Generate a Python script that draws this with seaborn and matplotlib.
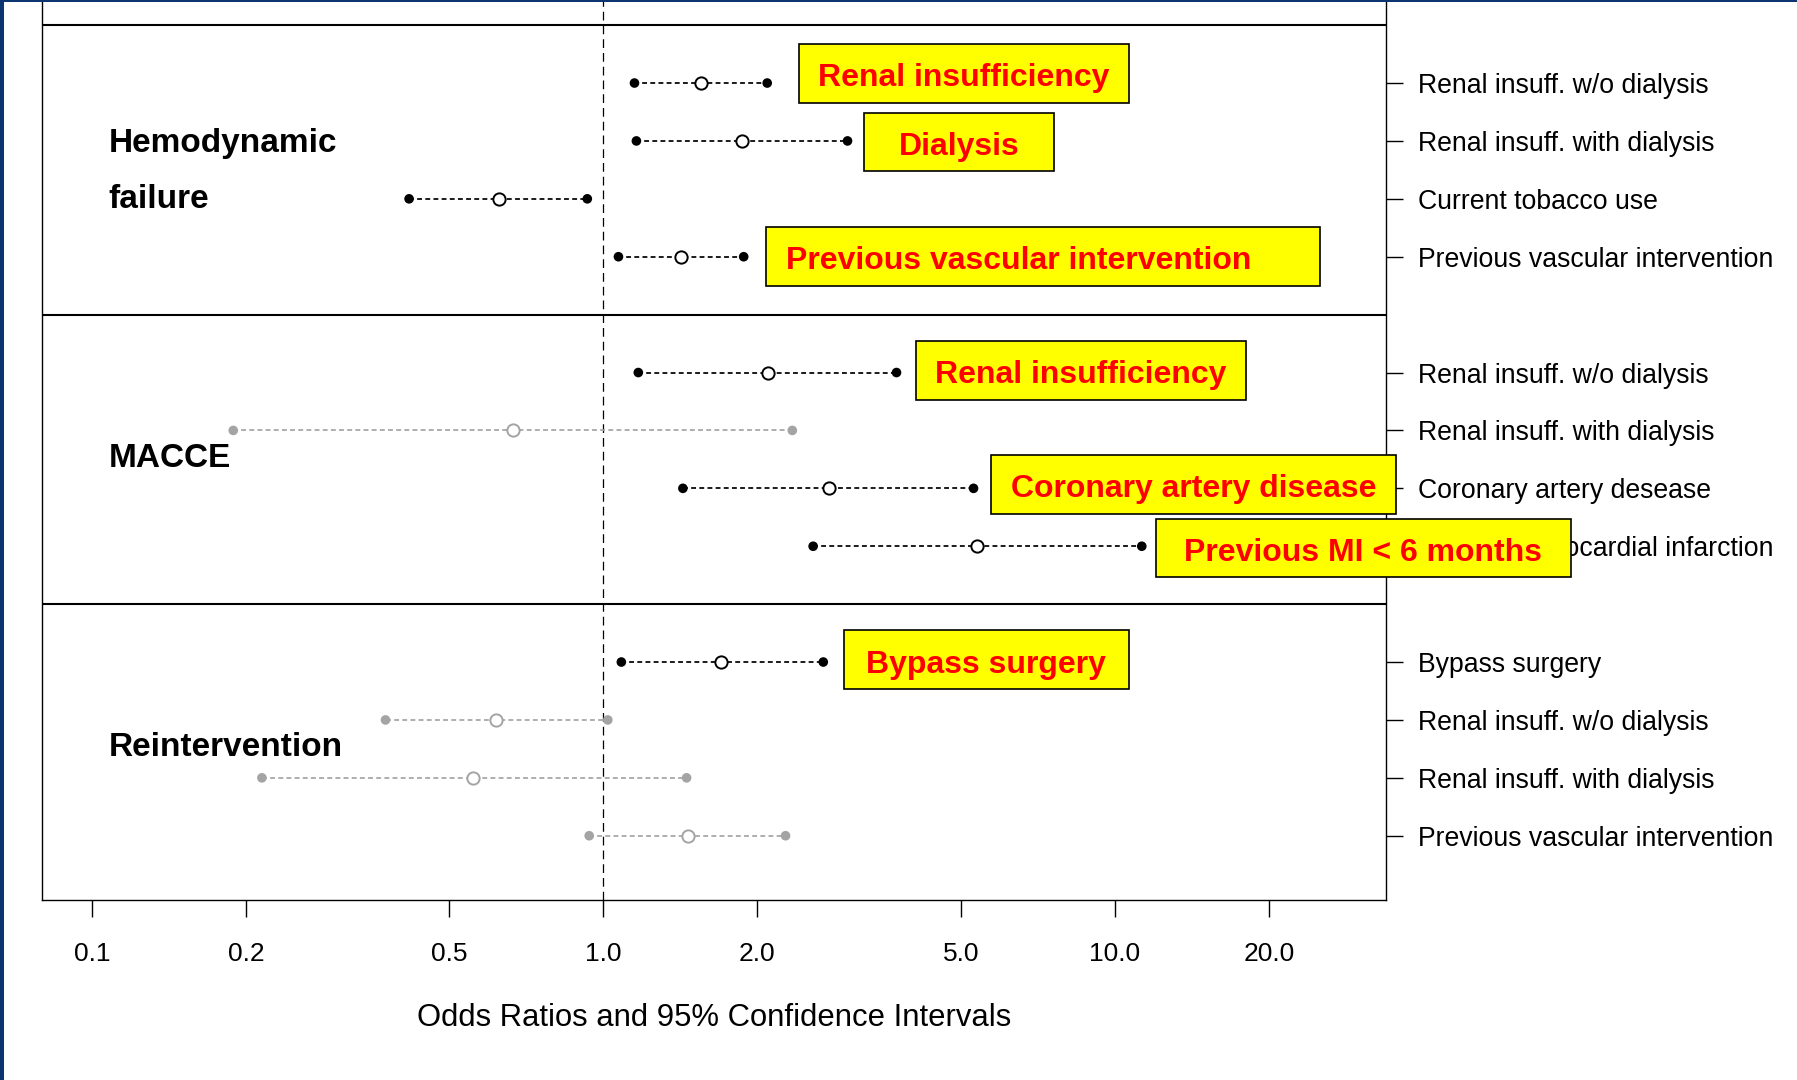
"""Forest plot of odds ratios for three outcomes, with highlight boxes."""

###########
# Imports #
###########
import numpy as np
import pandas as pd
import matplotlib
matplotlib.use("Agg")
import matplotlib.pyplot as plt
import matplotlib.transforms as mtransforms
from matplotlib.patches import Rectangle
from matplotlib.ticker import NullLocator
import seaborn as sns

########
# Data #
########
groups = ["Hemodynamic failure", "MACCE", "Reintervention"]

factors_hemo = ["Renal insuff. w/o dialysis", "Renal insuff. with dialysis",
                "Current tobacco use", "Previous vascular intervention"]
factors_macce = ["Renal insuff. w/o dialysis", "Renal insuff. with dialysis",
                 "Coronary artery desease", "Previous myocardial infarction"]
factors_reint = ["Bypass surgery", "Renal insuff. w/o dialysis",
                 "Renal insuff. with dialysis", "Previous vascular intervention"]

or_hemo = [1.55, 1.87, 0.625, 1.42]
lo_hemo = [1.15, 1.16, 0.417, 1.07]
hi_hemo = [2.09, 3.00, 0.93, 1.88]
sig_hemo = [True, True, True, True]

or_macce = [2.10, 0.667, 2.76, 5.38]
lo_macce = [1.17, 0.189, 1.43, 2.57]
hi_macce = [3.74, 2.34, 5.29, 11.28]
sig_macce = [True, False, True, True]

or_reint = [1.70, 0.618, 0.557, 1.46]
lo_reint = [1.084, 0.375, 0.215, 0.938]
hi_reint = [2.69, 1.02, 1.454, 2.27]
sig_reint = [True, False, False, False]

xtick_values = [0.1, 0.2, 0.5, 1.0, 2.0, 5.0, 10.0, 20.0]
xtick_labels = ["0.1", "0.2", "0.5", "1.0", "2.0", "5.0", "10.0", "20.0"]

highlight_text = ["Renal insufficiency", "Dialysis", "Previous vascular intervention",
                  "Renal insufficiency", "Coronary artery disease",
                  "Previous MI < 6 months", "Bypass surgery"]

##########
# Layout #
##########
# highlight boxes: left / right edge (odds-ratio units), vertical centre (row units)
box_left = [2.41, 3.23, 2.08, 4.08, 5.72, 12.0, 2.95]
box_right = [10.66, 7.60, 25.2, 18.0, 35.4, 77.9, 10.65]
box_y = [0.834, 2.017, 3.995, 5.964, 7.933, 9.035, 10.96]
box_text_x = [None, None, 6.47, None, None, None, None]

# group titles: lines and their baselines (row units)
group_lines = [["Hemodynamic", "failure"], ["MACCE"], ["Reintervention"]]
group_baselines = [[2.185, 3.16], [7.625], [12.625]]

BLACK = "black"
GREY = "#a4a4a4"
YELLOW = "#ffff00"
RED = "#ff0000"
NAVY = "#0c3470"

#################
# Organize data #
#################
df = pd.DataFrame({
    "group": np.repeat(groups, 4),
    "factor": factors_hemo + factors_macce + factors_reint,
    "odds": or_hemo + or_macce + or_reint,
    "lower": lo_hemo + lo_macce + lo_reint,
    "upper": hi_hemo + hi_macce + hi_reint,
    "significant": sig_hemo + sig_macce + sig_reint,
})
# 4 rows per panel, one empty slot between panels
df["row"] = [g * 5 + r for g in range(3) for r in range(1, 5)]

ends = df.melt(id_vars=["row", "significant"], value_vars=["lower", "upper"],
               value_name="x")

########
# Plot #
########
sns.set_theme(style="white", rc={
    "text.color": "black", "axes.labelcolor": "black",
    "xtick.color": "black", "ytick.color": "black",
    "axes.edgecolor": "black",
})
plt.rcParams["font.family"] = ["Liberation Sans", "DejaVu Sans"]

W, H = 1797, 1080
fig = plt.figure(figsize=(W / 100, H / 100), dpi=100)
fig.patch.set_facecolor("white")

row_px = 57.9
ylim = (15.11, -1.0)
ax_h = (ylim[0] - ylim[1]) * row_px / H
ax = fig.add_axes([41.7 / W, 180 / H, (1385.6 - 41.7) / W, ax_h])
ax.set_xscale("log")

palette = {True: BLACK, False: GREY}

# confidence interval lines
for sig, sub in df.groupby("significant"):
    ax.hlines(sub["row"], sub["lower"], sub["upper"], colors=palette[sig],
              linestyles=(0, (2.8, 1.9)), linewidth=1.25, zorder=2)

# interval end points
sns.scatterplot(data=ends, x="x", y="row", hue="significant", palette=palette,
                s=48, linewidth=0, legend=False, zorder=3, ax=ax)

# point estimates (hollow)
for sig, sub in df.groupby("significant"):
    sns.scatterplot(data=sub, x="odds", y="row", color=palette[sig],
                    facecolor="white", edgecolor=palette[sig], linewidth=1.4,
                    s=78, legend=False, zorder=4, ax=ax)

# reference line and panel separators
ax.axvline(1.0, color=BLACK, linewidth=0.9, linestyle=(0, (7, 4)), zorder=1)
for y in [0, 5, 10]:
    ax.axhline(y, color=BLACK, linewidth=1.5, zorder=1)

ax.set_xlim(0.0798, 33.8)
ax.set_ylim(*ylim)

ax.set_xticks(xtick_values)
ax.set_xticklabels(xtick_labels)
ax.xaxis.set_minor_locator(NullLocator())
ax.tick_params(axis="x", bottom=True, direction="out", length=12.2, width=1,
               pad=18, labelsize=19)

ax.yaxis.tick_right()
ax.set_yticks(df["row"])
ax.set_yticklabels(df["factor"])
ax.tick_params(axis="y", right=True, left=False, direction="out", length=12,
               width=1, pad=11.5, labelsize=19.2)

for side in ["left", "right", "bottom", "top"]:
    ax.spines[side].set_visible(True)
    ax.spines[side].set_linewidth(1.0)
    ax.spines[side].set_color(BLACK)

ax.set_xlabel("Odds Ratios and 95% Confidence Intervals", fontsize=22.3,
              labelpad=27)
ax.set_ylabel("")

# group titles
trans = mtransforms.blended_transform_factory(ax.transAxes, ax.transData)
for lines, bases in zip(group_lines, group_baselines):
    for txt, yb in zip(lines, bases):
        ax.text(0.0496, yb, txt, transform=trans, fontsize=24,
                fontweight="bold", ha="left", va="baseline")

# highlight boxes
for txt, l, r, yc, tx in zip(highlight_text, box_left, box_right, box_y,
                             box_text_x):
    ax.add_patch(Rectangle((l, yc - 0.505), r - l, 1.01, facecolor=YELLOW,
                           edgecolor=BLACK, linewidth=1.2, clip_on=False,
                           zorder=10))
    if tx is None:
        tx = np.sqrt(l * r)
    ax.text(tx, yc + 0.225, txt, color=RED, fontsize=23, fontweight="bold",
            ha="center", va="baseline", zorder=11, clip_on=False)

# slide frame (navy strip on the left and thin line on top)
fig.add_artist(Rectangle((0, 0), 4 / W, 1, transform=fig.transFigure,
                         facecolor=NAVY, edgecolor="none"))
fig.add_artist(Rectangle((0, 1 - 1.5 / H), 1, 1.5 / H,
                         transform=fig.transFigure, facecolor=NAVY,
                         edgecolor="none"))

fig.savefig("out.png", dpi=100)
